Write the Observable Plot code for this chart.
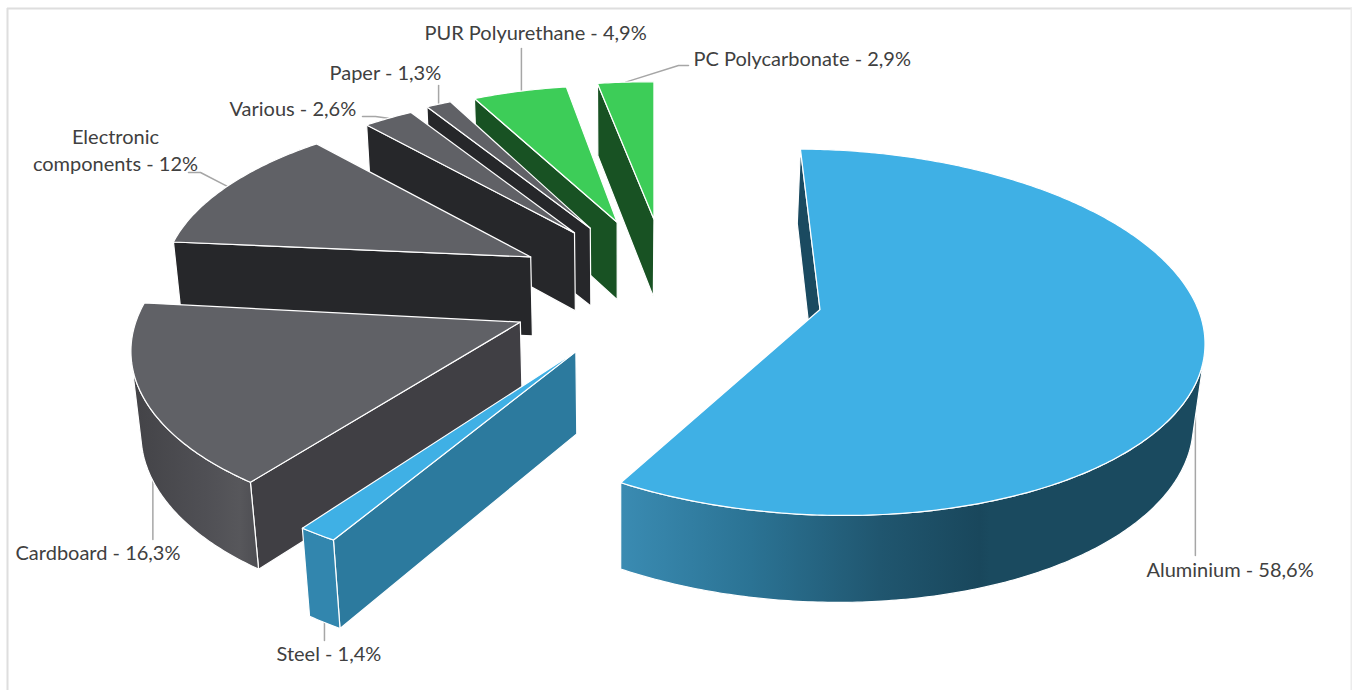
<!DOCTYPE html>
<html>
<head>
<meta charset="utf-8">
<style>html,body{margin:0;padding:0;background:#fff}svg{display:block}</style>
<script src="https://cdn.jsdelivr.net/npm/d3@7"></script>
<script src="https://cdn.jsdelivr.net/npm/@observablehq/plot@0.6"></script>
</head>
<body>
<div id="chart"></div>
<script>
// ---- data
const names = ["Aluminium","Steel","Cardboard","Electronic\ncomponents","Various","Paper","PUR Polyurethane","PC Polycarbonate"];
const shares = [58.6,1.4,16.3,12,2.6,1.3,4.9,2.9];
const shareText = ["58,6","1,4","16,3","12","2,6","1,3","4,9","2,9"];

// ---- look: colours of each slice
const topColors  = ["#3fb0e5","#3fb0e5","#606166","#606166","#606166","#606166","#3dcd58","#3dcd58"];
const wallColors = ["#1a4a60","#2c7a9e","#403f44","#26272a","#26272a","#26272a","#185223","#185223"];
const rimColors  = ["url(#rimBlue)","#3286ae","url(#rimGrey)","#26272a","#26272a","#26272a","#185223","#185223"];

// ---- layout: pie explosion (in pie-plane radius units), per-slice fit and the view
const explodeU = [0,-.618,-.773,-.781,-.675,-.634,-.5626,-.4619];
const explodeV = [0,-.2656,-.118,.2514,.4043,.4361,.4782,.5034];
const radius   = [1,1.015,.98,.97,.95,.96,.95,.96];
const turn     = [0,0,1.1,.1,.5,1,.5,.2];
const view = {cx:819.5, cy:309, a:382, b:180, k:.1244, m:.02, vx:620, h:82, shear:.03, startAngle:-3.3};

// label placement
const labelX = [1146,276,15,115,229,329,424,693];
const labelY = [568,652,551,148,107,71,31,57];
const labelAnchor = ["start","start","start","middle","start","start","start","start"];
// leader lines: where on the slice rim they start, and how they run to the label
const leaders = [
  {i:0,frac:.503,w:.65,toY:555},
  {i:1,frac:.5,w:1,toY:640},
  {i:2,frac:.507,w:1,toY:539},
  {i:3,frac:.50,w:0,tail:[[200,172],[188,172]]},
  {i:4,frac:.5,w:0,tail:[[375,116],[362,116]]},
  {i:5,frac:.5,w:0,toY:85},
  {i:6,frac:.52,w:0,toY:48},
  {i:7,frac:.5,w:0,tail:[[678,65],[688,65]]}
];

// ---- geometry: values -> angles -> perspective projection
const project = (u,v,w) => {
  const d0 = 1 + view.k*v, d = d0 + view.m*w;
  return {
    x: (view.cx*d0 + view.a*u + view.vx*view.m*w)/d,
    y: view.cy + (-view.b*v + view.shear*view.a*u + view.h*w)/d
  };
};
const total = d3.sum(shares);
let acc = view.startAngle;
const slices = shares.map((s,i) => {
  const a0 = acc + turn[i], a1 = acc + turn[i] + s/total*360; acc += s/total*360;
  const at = (deg,w) => {
    const t = deg*Math.PI/180;
    return project(explodeU[i]+radius[i]*Math.sin(t), explodeV[i]+radius[i]*Math.cos(t), w);
  };
  const apex = w => project(explodeU[i], explodeV[i], w);
  const n = Math.max(2, Math.ceil((a1-a0)*1.5));
  const steps = d3.range(n+1).map(j => a0+(a1-a0)*j/n);
  return {i,a0,a1,at,apex,steps};
});
const area = p => d3.sum(p, (q,j) => { const r = p[(j+1)%p.length]; return q.x*r.y - r.x*q.y; });
const close = p => [...p, p[0]];

const faces = [];
for (const s of [...slices].reverse()) {
  const startWall = [s.apex(0), s.apex(1), s.at(s.a0,1), s.at(s.a0,0)];
  const endWall = [s.apex(0), s.at(s.a1,0), s.at(s.a1,1), s.apex(1)];
  if (area(endWall) > 0) faces.push({pts:close(endWall), fill:wallColors[s.i]});
  if (area(startWall) > 0) faces.push({pts:close(startWall), fill:wallColors[s.i]});
  // outer rim: only the part that faces the viewer
  const vis = [];
  for (let j=0;j<s.steps.length-1;j++){
    const q=[s.at(s.steps[j],0),s.at(s.steps[j],1),s.at(s.steps[j+1],1),s.at(s.steps[j+1],0)];
    if (area(q)>0){ if(!vis.length) vis.push(s.steps[j]); vis.push(s.steps[j+1]); }
  }
  if (vis.length) faces.push({pts:close([...vis.map(a=>s.at(a,0)), ...vis.slice().reverse().map(a=>s.at(a,1))]), fill:rimColors[s.i]});
  faces.push({pts:close([s.apex(0), ...s.steps.map(a=>s.at(a,0))]), fill:topColors[s.i]});
}

const leaderLines = leaders.map(l => {
  const s = slices[l.i];
  const p = s.at(s.a0+(s.a1-s.a0)*l.frac, l.w);
  return l.tail ? [p, ...l.tail.map(([x,y])=>({x,y}))] : [p, {x:p.x, y:l.toY}];
});

const labels = names.map((n,i)=>({text:`${n} - ${shareText[i]}%`,x:labelX[i],y:labelY[i],anchor:labelAnchor[i]}));

const defs = () => {
  const NS="http://www.w3.org/2000/svg";
  const d=document.createElementNS(NS,"defs");
  const grad=(id,x1,x2,stops)=>{
    const g=document.createElementNS(NS,"linearGradient");
    g.setAttribute("id",id);g.setAttribute("gradientUnits","userSpaceOnUse");
    g.setAttribute("x1",x1);g.setAttribute("x2",x2);g.setAttribute("y1",0);g.setAttribute("y2",0);
    for(const [o,c] of stops){const st=document.createElementNS(NS,"stop");st.setAttribute("offset",o);st.setAttribute("stop-color",c);g.appendChild(st);}
    d.appendChild(g);
  };
  grad("rimBlue",621,990,[[0,"#3a8bb2"],[.35,"#2b7394"],[.7,"#20566f"],[.97,"#19475c"],[1,"#1a4a5f"]]);
  grad("rimGrey",132,258,[[0,"#434347"],[.6,"#505055"],[.85,"#57575b"],[1,"#4d4d52"]]);
  return d;
};

const textOpts = {x:"x",y:"y",text:"text",lineHeight:1.35,fontFamily:"Lato",fontSize:20,fill:"#404040"};
const chart = Plot.plot({
  width:1352, height:690, margin:0,
  x:{domain:[0,1352],range:[0,1352],axis:null},
  y:{domain:[0,690],range:[0,690],axis:null},
  marks:[
    defs,
    Plot.ruleY([8],{x1:7,x2:1352,stroke:"#dedede",strokeWidth:2}),
    Plot.ruleX([7],{y1:8,y2:690,stroke:"#dedede",strokeWidth:2}),
    Plot.ruleX([1351],{y1:8,y2:690,stroke:"#ececec",strokeWidth:2}),
    ...leaderLines.map(p=>Plot.line(p,{x:"x",y:"y",stroke:"#a6a6a6",strokeWidth:1.5,curve:"linear"})),
    ...faces.map(f=>Plot.line(f.pts,{x:"x",y:"y",fill:f.fill,stroke:"#fff",strokeWidth:1.2,strokeLinejoin:"round",curve:"linear"})),
    Plot.text(labels.filter(d=>d.anchor==="start"),{...textOpts,textAnchor:"start"}),
    Plot.text(labels.filter(d=>d.anchor==="middle"),{...textOpts,textAnchor:"middle"})
  ]
});
document.getElementById("chart").appendChild(chart);
</script>
</body>
</html>
